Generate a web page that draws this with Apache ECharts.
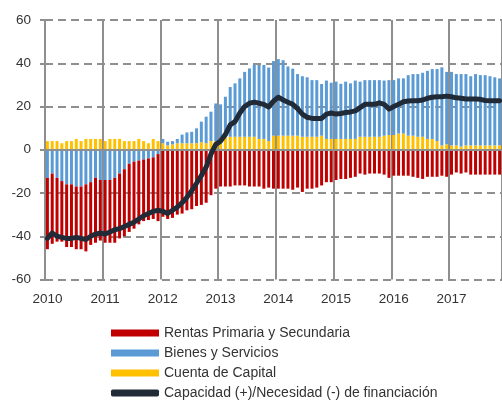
<!DOCTYPE html>
<html><head><meta charset="utf-8">
<script src="https://cdn.jsdelivr.net/npm/echarts@6/dist/echarts.min.js"></script>
<style>html,body{margin:0;padding:0;background:#fff}#c{width:502px;height:401px}</style>
</head><body><div id="c"></div>
<script>
var years = ['2010','2011','2012','2013','2014','2015','2016','2017'];
var monthsInLastYear = 11;
var categories = [];
years.forEach(function(y, k){
  var n = (k === years.length - 1) ? monthsInLastYear : 12;
  for (var m = 1; m <= n; m++) categories.push(y + '-' + (m < 10 ? '0' + m : m));
});
var yTicks = [-60, -40, -20, 0, 20, 40, 60];

var capital = [4,4,4,3,4,4,5,4,5,5,5,5, 4,5,5,5,4,4,4,5,4,3,5,4,
  3,2,2.5,3,3,3,3,3,3.5,3,4,4,
  5,6,6,6,6,6,6,6,5,5,4,6.5,
  6.5,6.5,6.5,6.5,6.5,6,6,6,6,6.5,5,5,
  5,5,5,5,5,6,6,6,6,6,6.5,6.8,
  6.8,7.5,7.5,6.5,6.5,6,6,5,5,4,2,2.5,
  2,2,1.5,2,2,2,2,2,2,2,2];
var bienes = [-13,-11,-13,-14.5,-16,-16,-17,-17,-16,-15,-13,-14,
  -14,-14,-13,-11,-9,-6.5,-5.5,-5,-4.5,-4,-3.5,-2,
  2,1.7,1.5,2,4,5,5.3,6.9,9.5,12.3,13.6,17.4,
  16,18.5,23,24.7,27,30,31.6,33.2,34.2,34.2,34,34.5,
  35.4,34.9,32,31,28.5,28,27.5,26.2,26.2,23.9,27,26,
  26.5,25.5,26.5,25.7,27,25.5,26.2,26.2,26.2,26.2,25.5,25.4,
  25.4,25.5,25.5,28,28.5,29,29.6,31.5,32.3,33.3,36.1,33.5,
  34,33,33.5,33,32,33,32.5,32.5,32,31.5,31];
var rentas = [-33,-32.5,-29.5,-28,-29,-29,-29,-29,-31,-29,-30,-28,
  -29,-29,-30,-30,-31,-31.5,-31,-29.5,-28.5,-28.5,-28.5,-31,
  -31,-32,-31.5,-30,-29.5,-28,-27.5,-26,-25.5,-24.5,-21,-18,
  -17,-17,-17,-16.5,-16.5,-16.5,-17,-17,-17,-18,-17.5,-18,
  -18,-18,-18,-18.5,-17.5,-19.5,-18,-18,-17.5,-16.5,-15,-15,
  -14,-13.5,-13.5,-13,-12.5,-11,-11.5,-11,-11,-11,-11.5,-13,
  -12,-12,-12,-12,-12.5,-13,-13.5,-12.5,-12.5,-12.5,-12,-12.5,
  -11.5,-10.5,-11,-10.5,-11.5,-11.5,-11.5,-11.5,-11.5,-11.5,-11.5];
var capacidad = [-41,-38.5,-40,-40.5,-41,-41,-40.5,-41,-41.5,-40,-39,-38.5,
  -39,-38,-37,-36.5,-35.5,-34.5,-33.5,-32,-30.5,-29.5,-28.5,-28,
  -28.5,-29.5,-28,-26.5,-24.5,-22,-19,-15.5,-12,-8,-2,2.5,
  4,7,11.5,13,17,20,21.5,22,21.5,21,19.8,22.5,
  24.3,23,22,21,19,16.5,15,14.5,14.5,14.5,16.5,17,
  16.5,16.8,17.2,17.5,18,19.5,21,21,21,21.7,21,18.8,
  20,21,22.2,22.5,22.7,22.7,23,23.8,24.3,24.5,24.5,24.8,
  24.5,24,23.8,23.5,23.5,23.5,23.3,22.8,22.7,22.7,22.7];

var names = ['Rentas Primaria y Secundaria','Bienes y Servicios','Cuenta de Capital','Capacidad (+)/Necesidad (-) de financiación'];
var FONT = 'Liberation Sans, Arial, Helvetica, sans-serif';
var GRID = '#8f8f8f';

var chart = echarts.init(document.getElementById('c'), null, {renderer:'canvas'});
chart.setOption({
  animation: false,
  backgroundColor: '#fff',
  textStyle: {fontFamily: FONT},
  grid: {left: 45, right: 0, top: 20, bottom: 121.5, containLabel: false},
  legend: {
    orient: 'vertical', left: 111, top: 326, height: 80, padding: 0,
    itemWidth: 48, itemHeight: 7, itemGap: 6,
    textStyle: {fontFamily: FONT, fontSize: 14, color: '#333'},
    data: [
      {name: names[0], icon: 'rect'},
      {name: names[1], icon: 'rect'},
      {name: names[2], icon: 'rect'},
      {name: names[3], icon: 'roundRect'}
    ]
  },
  xAxis: {
    type: 'category', data: categories, boundaryGap: true,
    axisLine: {show: false}, axisTick: {show: false},
    axisLabel: {
      interval: function(i){ return i % 12 === 0; },
      formatter: function(v){ return v.slice(0,4); },
      color: '#333', fontSize: 13.5, fontFamily: FONT, margin: 13
    },
    splitLine: {show: true, interval: function(i){ return i % 12 === 0; }, lineStyle: {color: GRID, width: 2, type: 'solid'}}
  },
  yAxis: {
    type: 'value', min: yTicks[0], max: yTicks[yTicks.length-1], interval: 20,
    axisLine: {show: true, lineStyle: {color: GRID, width: 2}},
    axisTick: {show: true, length: 5, lineStyle: {color: GRID, width: 2}},
    axisLabel: {color: '#333', fontSize: 13.5, fontFamily: FONT, margin: 14},
    splitLine: {show: true, lineStyle: {color: GRID, width: 2, type: [8,5]}}
  },
  series: [
    {name: names[2], type: 'bar', stack: 'a', data: capital, barWidth: 3, itemStyle: {color: '#ffc000'}},
    {name: names[1], type: 'bar', stack: 'a', data: bienes, barWidth: 3, itemStyle: {color: '#5b9bd5'}},
    {name: names[0], type: 'bar', stack: 'a', data: rentas, barWidth: 3, itemStyle: {color: '#c00000'},
      markLine: {silent: true, symbol: 'none', label: {show: false},
        lineStyle: {color: GRID, width: 2, type: 'solid'}, data: [{yAxis: 0}]}},
    {name: names[3], type: 'line', data: capacidad, showSymbol: false, symbol: 'none',
      lineStyle: {color: '#212a37', width: 5, cap: 'round', join: 'round'}, itemStyle: {color: '#212a37'}, z: 5}
  ]
});
</script></body></html>
